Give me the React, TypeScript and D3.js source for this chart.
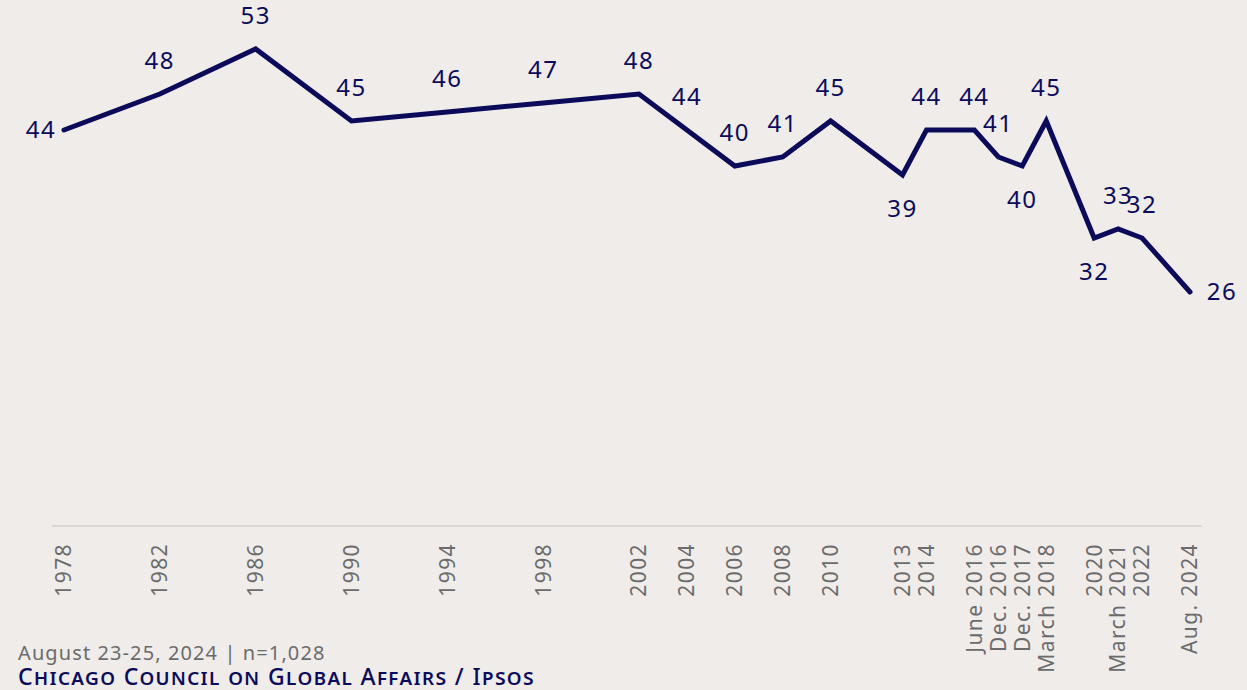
import React, { useEffect, useRef } from 'react';
import * as d3 from 'd3';

// every slot on the horizontal axis, one per year (plus the split years)
const slots = [
  '1978', '1979', '1980', '1981', '1982', '1983', '1984', '1985', '1986', '1987',
  '1988', '1989', '1990', '1991', '1992', '1993', '1994', '1995', '1996', '1997',
  '1998', '1999', '2000', '2001', '2002', '2003', '2004', '2005', '2006', '2007',
  '2008', '2009', '2010', '2011', '2012', '2013', '2014', '2015',
  'June 2016', 'Dec. 2016', 'Dec. 2017', 'March 2018', '2019',
  '2020', 'March 2021', '2022', '2023', 'Aug. 2024'
];

const surveys = [
  '1978', '1982', '1986', '1990', '1994', '1998', '2002', '2004', '2006', '2008',
  '2010', '2013', '2014', 'June 2016', 'Dec. 2016', 'Dec. 2017', 'March 2018',
  '2020', 'March 2021', '2022', 'Aug. 2024'
];

const values = [44, 48, 53, 45, 46, 47, 48, 44, 40, 41, 45, 39, 44, 44, 41, 40, 45, 32, 33, 32, 26];

const labelPos = [
  'left', 'above', 'above', 'above', 'above', 'above', 'above', 'above', 'above', 'above',
  'above', 'below', 'above', 'above', 'above', 'below', 'above',
  'below', 'above', 'above', 'right'
];

const W = 1247;
const H = 690;
const NAVY = '#0b0b5a';
const FONT = '"Noto Sans", sans-serif';

const App = () => {
  const ref = useRef<SVGSVGElement>(null);

  useEffect(() => {
    const svg = d3.select(ref.current);
    svg.selectAll('*').remove();

    const x = d3.scalePoint<string>().domain(slots).range([64, 1190]);
    const y = d3.scaleLinear().domain([0, 58]).range([526, 4]);

    svg.append('rect').attr('width', W).attr('height', H).attr('fill', '#efecea');

    // baseline
    svg
      .append('line')
      .attr('x1', 52)
      .attr('x2', 1202)
      .attr('y1', y(0))
      .attr('y2', y(0))
      .attr('stroke', '#d9d6d3')
      .attr('stroke-width', 2);

    const data = surveys.map((s, i) => ({ s, v: values[i], pos: labelPos[i] }));

    const line = d3
      .line<{ s: string; v: number }>()
      .x((d) => x(d.s) as number)
      .y((d) => y(d.v));

    svg
      .append('path')
      .datum(data)
      .attr('d', line)
      .attr('fill', 'none')
      .attr('stroke', NAVY)
      .attr('stroke-width', 5)
      .attr('stroke-linejoin', 'miter')
      .attr('stroke-linecap', 'round');

    // value labels
    svg
      .selectAll('.val')
      .data(data)
      .enter()
      .append('text')
      .attr('class', 'val')
      .attr('x', (d) => {
        const px = x(d.s) as number;
        if (d.pos === 'left') return px - 23;
        if (d.pos === 'right') return px + 32;
        return px;
      })
      .attr('y', (d) => {
        const py = y(d.v);
        if (d.pos === 'above') return py - 33;
        if (d.pos === 'below') return py + 34;
        return py;
      })
      .attr('dy', '0.35em')
      .attr('text-anchor', 'middle')
      .attr('fill', NAVY)
      .style('font-family', FONT)
      .style('font-size', '24px')
      .style('letter-spacing', '1.5px')
      .text((d) => d.v);

    // axis labels, rotated
    svg
      .selectAll('.tick')
      .data(surveys)
      .enter()
      .append('text')
      .attr('class', 'tick')
      .attr('transform', (d) => `translate(${x(d)},543) rotate(-90)`)
      .attr('dy', '0.35em')
      .attr('text-anchor', 'end')
      .attr('fill', '#6b6b6b')
      .style('font-family', FONT)
      .style('font-size', '21px')
      .style('letter-spacing', '1.4px')
      .text((d) => d);

    svg
      .append('text')
      .attr('x', 18)
      .attr('y', 660)
      .attr('fill', '#6b6b6b')
      .style('font-family', FONT)
      .style('font-size', '20px')
      .style('letter-spacing', '1.1px')
      .text('August 23-25, 2024 | n=1,028');

    svg
      .append('text')
      .attr('x', 18)
      .attr('y', 685)
      .attr('fill', NAVY)
      .style('font-family', FONT)
      .style('font-size', '23px')
      .style('font-weight', 500)
      .style('letter-spacing', '1.4px')
      .style('font-variant', 'small-caps')
      .text('Chicago Council on Global Affairs / Ipsos');
  }, []);

  return (
    <svg
      ref={ref}
      width={W}
      height={H}
      style={{ position: 'absolute', left: 0, top: 0, display: 'block' }}
    />
  );
};

export default App;
